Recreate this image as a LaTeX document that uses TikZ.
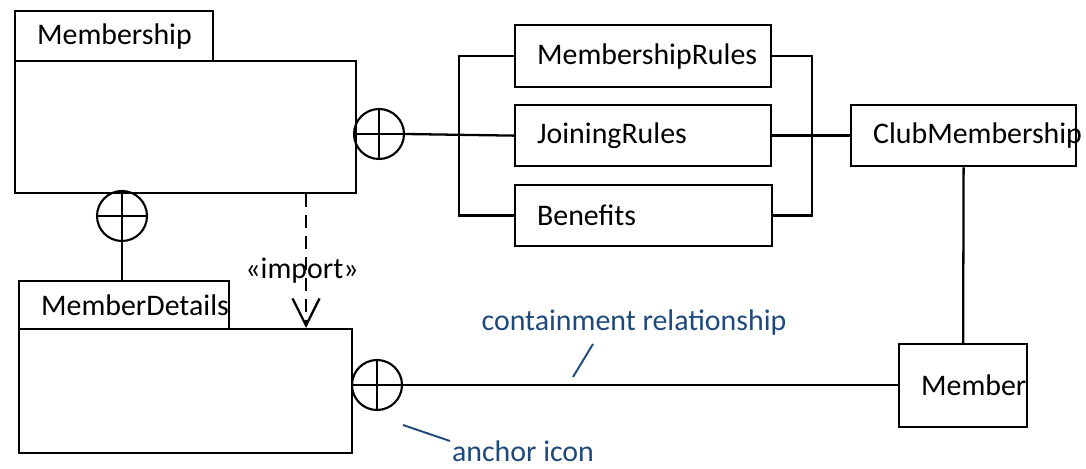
\documentclass[tikz,border=0pt]{standalone}
\usepackage{fontspec}
\setmainfont{Carlito}
\usetikzlibrary{arrows.meta}
\definecolor{notecolor}{RGB}{31,73,125}

\begin{document}
\begin{tikzpicture}[
    x=0.02cm, y=-0.02cm,
    pkgbox/.style={rectangle, draw=black, line width=1.3pt, anchor=north west,
                   align=left, inner xsep=0.44cm, inner ysep=0pt,
                   font=\fontsize{17}{20}\selectfont},
    classbox/.style={pkgbox},
    anchoricon/.style={circle, draw=black, line width=1.2pt, minimum size=1cm, inner sep=0pt,
                       path picture={\draw[line width=1.2pt]
                           (path picture bounding box.north) -- (path picture bounding box.south)
                           (path picture bounding box.west) -- (path picture bounding box.east);}},
    link/.style={line width=1.3pt, draw=black},
    importdep/.style={line width=1.3pt, draw=black, dash pattern=on 0.26cm off 0.16cm,
                      -{Straight Barb[length=0.54cm, width=0.54cm, line width=1.3pt]}},
    note/.style={font=\fontsize{17}{20}\selectfont, text=notecolor, inner sep=1pt},
    pointer/.style={line width=1.1pt, draw=notecolor}
]
\useasboundingbox (0,0) rectangle (1086,469);

% Pacchetti
\node[pkgbox, text width=3.08cm, minimum height=1cm] (memtab) at (14,10) {Membership};
\node[pkgbox, minimum width=6.82cm, minimum height=2.64cm] (membody) at (14,60) {};

\node[pkgbox, text width=3.32cm, minimum height=0.96cm] (dettab) at (18,280) {MemberDetails};
\node[pkgbox, minimum width=6.66cm, minimum height=2.48cm] (detbody) at (18,328) {};

% Classi
\node[classbox, text width=4.24cm, minimum height=1.24cm] (rules) at (514,24) {MembershipRules};
\node[classbox, text width=4.24cm, minimum height=1.22cm] (joining) at (514,104) {JoiningRules};
\node[classbox, text width=4.26cm, minimum height=1.22cm] (benefits) at (514,184) {Benefits};
\node[classbox, text width=3.62cm, minimum height=1.22cm] (club) at (850,104) {ClubMembership};
\node[classbox, text width=1.68cm, minimum height=1.66cm] (member) at (898,343) {Member};

% Anchor icons
\node[anchoricon] (anc1) at (379,134) {};
\node[anchoricon] (anc2) at (122,216) {};
\node[anchoricon] (anc3) at (377,385) {};

% Containment
\draw[link] (anc1.east) -- (joining.west);
\draw[link] (rules.west) -- ++(-55,0) |- (benefits.west);
\draw[link] (rules.east) -- ++(40,0) |- (benefits.east);
\draw[link] (joining.east) -- (club.west);
\draw[link] (club.south) -- (member.north);
\draw[link] (anc2.south) -- (anc2.south |- dettab.north);
\draw[link] (anc3.east) -- (anc3.east -| member.west);

% Import
\coordinate (impx) at (306,0);
\draw[importdep] (membody.south -| impx) -- (detbody.north -| impx)
    node[pos=0.57, xshift=-0.08cm, font=\fontsize{17}{20}\selectfont] (implbl) {«import»};

% Note
\node[note] (containlbl) at (634,323) {containment relationship};
\node[note] (anchorlbl) at (523,451) {anchor icon};
\coordinate (containtip) at (573,377);
\coordinate (containend) at (593,344);
\draw[pointer] (containtip) -- (containend);
\coordinate (anchortip) at (403,425);
\coordinate (anchorend) at (450,441);
\draw[pointer] (anchortip) -- (anchorend);

\end{tikzpicture}
\end{document}
